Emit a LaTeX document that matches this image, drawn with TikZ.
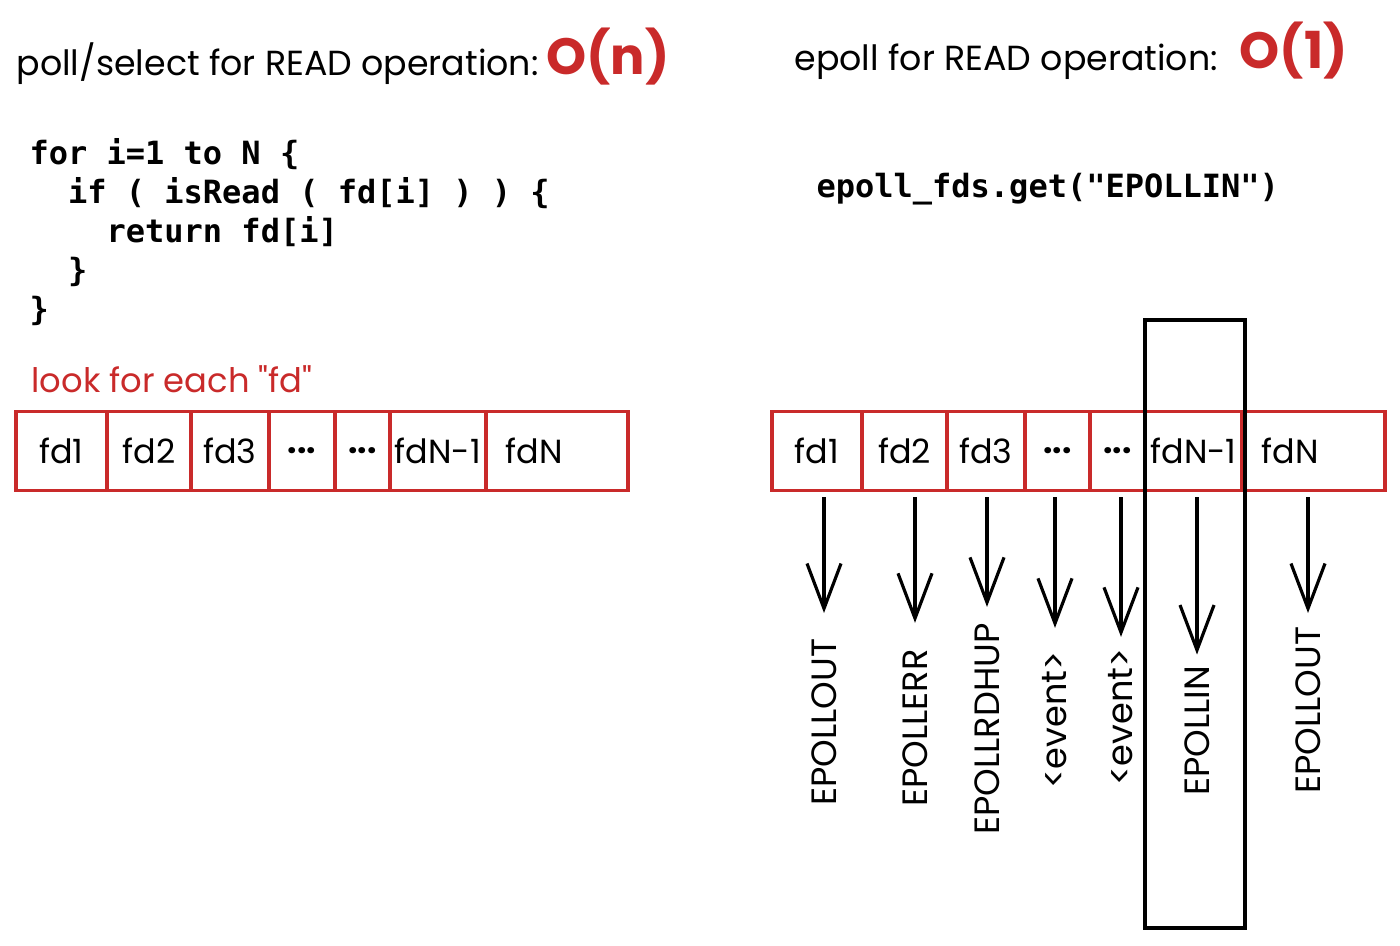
\documentclass[tikz,border=0pt]{standalone}
\usepackage{fontspec}
\setmainfont{Poppins}
\setmonofont{DejaVu Sans Mono}
\usetikzlibrary{arrows.meta, calc}

\definecolor{sketchred}{HTML}{C92A2A}
\newcommand{\codeind}{\hspace*{1.204em}}
\newcommand{\fddots}{{\bfseries .\kern0pt.\kern0pt.}}

\begin{document}
\begin{tikzpicture}[x=0.01cm, y=-0.01cm, line width=0.9pt,
	hand/.style={font=\fontsize{9.9}{12}\selectfont, inner sep=0pt},
	bigo/.style={font=\bfseries\fontsize{14.5}{18}\selectfont, text=sketchred, inner sep=0pt},
	code/.style={font=\ttfamily\bfseries\fontsize{9.1}{11.1}\selectfont, align=left, inner sep=0pt},
	fdcell/.style={draw=sketchred, minimum height=0.79cm, inner sep=0pt, font=\fontsize{9.5}{12}\selectfont},
	lastcell/.style={fdcell, text width=1.02cm, inner xsep=0.2cm, align=left},
	evlabel/.style={rotate=90, inner sep=0pt, font=\fontsize{10}{12}\selectfont},
	evarrow/.style={-{Straight Barb[length=4.5mm, width=3.4mm]}}]

	\useasboundingbox (0,0) rectangle (1400,945);

	% titles
	\node[hand, anchor=base west] (polltitle) at (15,75) {poll/select for READ operation:};
	\node[bigo, anchor=base west] (pollcost) at (545,74) {O(n)};
	\node[hand, anchor=base west] (epolltitle) at (793,70) {epoll for READ operation:};
	\node[bigo, anchor=base west] (epollcost) at (1238,68) {O(1)};

	% code
	\node[code, anchor=north west] (pollcode) at (28,137) {for i=1 to N \{\\
		\codeind if ( isRead ( fd[i] ) ) \{\\
		\codeind\codeind return fd[i]\\
		\codeind \}\\
		\}};
	\node[code, anchor=north west] (epollcode) at (815,172) {epoll\_fds.get("EPOLLIN")};

	% poll/select array
	\node[hand, font=\fontsize{9.6}{12}\selectfont, text=sketchred, anchor=base west] (looklabel) at (30,392) {look for each \textquotedbl fd\textquotedbl};
	\node[fdcell, minimum width=0.91cm] (l1) at (61.5,451) {fd1};
	\node[fdcell, minimum width=0.84cm] (l2) at (149,451) {fd2};
	\node[fdcell, minimum width=0.78cm] (l3) at (230,451) {fd3};
	\node[fdcell, minimum width=0.66cm] (l4) at (302,451) {\fddots};
	\node[fdcell, minimum width=0.55cm] (l5) at (362.5,451) {\fddots};
	\node[fdcell, minimum width=0.96cm] (l6) at (438,451) {fdN-1};
	\node[lastcell] (l7) at (557,451) {fdN};

	% epoll array
	\node[fdcell, minimum width=0.90cm] (r1) at (817,451) {fd1};
	\node[fdcell, minimum width=0.85cm] (r2) at (904.5,451) {fd2};
	\node[fdcell, minimum width=0.78cm] (r3) at (986,451) {fd3};
	\node[fdcell, minimum width=0.65cm] (r4) at (1057.5,451) {\fddots};
	\node[fdcell, minimum width=0.55cm] (r5) at (1117.5,451) {\fddots};
	\node[fdcell, minimum width=0.97cm] (r6) at (1193.5,451) {fdN-1};
	\node[lastcell, text width=1.03cm] (r7) at (1313.5,451) {fdN};

	% ready one
	\draw (1145,320) rectangle (1245,928);

	% events
	\node[evlabel] (e1) at (824,722) {EPOLLOUT};
	\node[evlabel] (e2) at (915,728) {EPOLLERR};
	\node[evlabel] (e3) at (987,729) {EPOLLRDHUP};
	\node[evlabel] (e4) at (1055,720) {<event>};
	\node[evlabel] (e5) at (1121,717) {<event>};
	\node[evlabel] (e6) at (1197,731) {EPOLLIN};
	\node[evlabel] (e7) at (1308,710) {EPOLLOUT};

	\draw[evarrow] ($(r1.south -| e1.east)+(0,5)$) -- ($(e1.east)+(0,-24)$);
	\draw[evarrow] ($(r2.south -| e2.east)+(0,5)$) -- ($(e2.east)+(0,-25)$);
	\draw[evarrow] ($(r3.south -| e3.east)+(0,5)$) -- ($(e3.east)+(0,-15)$);
	\draw[evarrow] ($(r4.south -| e4.east)+(0,5)$) -- ($(e4.east)+(0,-22)$);
	\draw[evarrow] ($(r5.south -| e5.east)+(0,5)$) -- ($(e5.east)+(0,-10)$);
	\draw[evarrow] ($(r6.south -| e6.east)+(0,5)$) -- ($(e6.east)+(0,-10)$);
	\draw[evarrow] ($(r7.south -| e7.east)+(0,5)$) -- ($(e7.east)+(0,-12)$);

\end{tikzpicture}
\end{document}
